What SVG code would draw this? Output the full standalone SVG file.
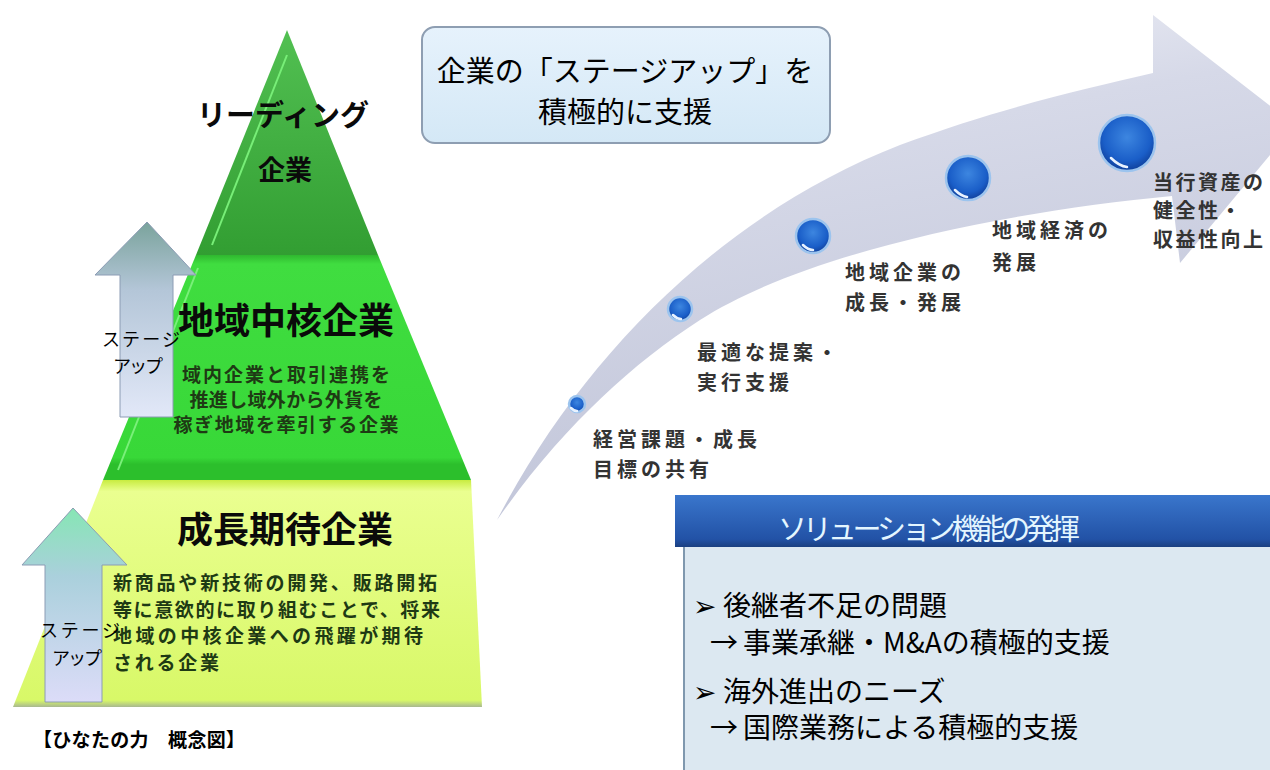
<svg xmlns="http://www.w3.org/2000/svg" width="1270" height="770" viewBox="0 0 1270 770">
<defs>
<linearGradient id="gTop" x1="0" y1="0" x2="0" y2="1"><stop offset="0" stop-color="#52c052"/><stop offset="1" stop-color="#329e32"/></linearGradient>
<linearGradient id="gMid" x1="0" y1="0" x2="0" y2="1"><stop offset="0" stop-color="#2fb82f"/><stop offset="0.04" stop-color="#40dd40"/><stop offset="0.9" stop-color="#38d838"/><stop offset="0.93" stop-color="#2cbf2c"/><stop offset="1" stop-color="#2cbf2c"/></linearGradient>
<linearGradient id="gBot" x1="0" y1="0" x2="0" y2="1"><stop offset="0" stop-color="#c8ec40"/><stop offset="0.05" stop-color="#eaff90"/><stop offset="0.97" stop-color="#d8f868"/><stop offset="1" stop-color="#a8b890"/></linearGradient>
<linearGradient id="gUp1" x1="0" y1="0" x2="0" y2="1"><stop offset="0" stop-color="#7aa39c"/><stop offset="0.35" stop-color="#b4c6d8"/><stop offset="1" stop-color="#e2e8f8"/></linearGradient>
<linearGradient id="gUp2" x1="0" y1="0" x2="0" y2="1"><stop offset="0" stop-color="#86e6b4"/><stop offset="0.35" stop-color="#aad0dc"/><stop offset="1" stop-color="#dcdcf8"/></linearGradient>
<linearGradient id="gArrow" x1="0" y1="0" x2="0.3" y2="1"><stop offset="0" stop-color="#f4f5fa"/><stop offset="0.35" stop-color="#d6d9e8"/><stop offset="1" stop-color="#c0c4d8"/></linearGradient>
<radialGradient id="gBall" cx="0.5" cy="0.4" r="0.6"><stop offset="0" stop-color="#3d86e0"/><stop offset="0.7" stop-color="#1a5ec8"/><stop offset="1" stop-color="#0f3f9a"/></radialGradient>
<linearGradient id="gHead" x1="0" y1="0" x2="0" y2="1"><stop offset="0" stop-color="#3a76cc"/><stop offset="0.85" stop-color="#2252a6"/><stop offset="1" stop-color="#1a3f80"/></linearGradient>
<linearGradient id="gBox" x1="0" y1="0" x2="0" y2="1"><stop offset="0" stop-color="#e6f2fc"/><stop offset="1" stop-color="#d4e8f6"/></linearGradient>
</defs>
<style>
.jp{font-family:"Noto Sans CJK JP","Noto Sans CJK SC",sans-serif}
.pt{font-family:"Noto Sans CJK JP",sans-serif;font-weight:700;fill:#0a0a0a;text-anchor:middle}
.ps{font-family:"Noto Sans CJK JP",sans-serif;font-weight:700;fill:#1e3a14;font-size:19px}
.st{font-family:"Noto Sans CJK JP",sans-serif;font-size:18px;fill:#000}
.lb{font-family:"Noto Sans CJK JP",sans-serif;font-weight:700;fill:#333;font-size:20px;letter-spacing:4px}
.it{font-family:"Noto Sans CJK JP",sans-serif;font-size:28px;fill:#000}
.ball{fill:url(#gBall);stroke:#9cc4ee;stroke-width:2.5}
</style>

<g id="curved-arrow">
<path d="M497,520 C580,360 720,215 900,145 C1000,108 1080,90 1153,73 L1153,15 L1295,125 L1180,263 L1172,196 C1000,212 800,255 700,320 C630,365 560,430 497,520 Z" fill="url(#gArrow)"/>
</g>

<g id="spheres">
<circle class="ball" cx="577" cy="404" r="8"/>
<circle class="ball" cx="680" cy="309" r="12"/>
<circle class="ball" cx="813" cy="236" r="17"/>
<circle class="ball" cx="968" cy="178" r="22"/>
<circle class="ball" cx="1127" cy="143" r="28"/>
<path d="M571,408 q3,3 6,3 M673,315 q4,4 8,4 M803,245 q5,5 10,5 M955,190 q6,6 12,7 M1111,158 q8,8 16,9" stroke="#e8f2ff" stroke-width="2.5" fill="none" stroke-linecap="round"/>
</g>

<g id="pyramid">
<g id="tier-top">
<polygon points="287,30 378,255 196,255" fill="url(#gTop)"/>
<line x1="287" y1="55" x2="212" y2="245" stroke="#78ee78" stroke-width="2"/>
<text class="pt" x="283" y="126" font-size="29">リーディング</text>
<text class="pt" x="285" y="180" font-size="27">企業</text>
</g>
<g id="tier-mid">
<polygon points="196,255 378,255 471,480 103,480" fill="url(#gMid)"/>
<line x1="198" y1="268" x2="118" y2="470" stroke="#7af07a" stroke-width="2"/>
<text class="pt" x="286" y="334" font-size="36">地域中核企業</text>
<text class="ps" x="286" y="382" text-anchor="middle" textLength="208">域内企業と取引連携を</text>
<text class="ps" x="286" y="407" text-anchor="middle" textLength="193">推進し域外から外貨を</text>
<text class="ps" x="286" y="432" text-anchor="middle" textLength="225">稼ぎ地域を牽引する企業</text>
</g>
<g id="tier-bot">
<polygon points="103,480 471,480 482,707 13,707" fill="url(#gBot)"/>
<text class="pt" x="285" y="543" font-size="36">成長期待企業</text>
<text class="ps" x="113" y="590" font-size="20" textLength="324">新商品や新技術の開発、販路開拓</text>
<text class="ps" x="113" y="617" font-size="20" textLength="327">等に意欲的に取り組むことで、将来</text>
<text class="ps" x="113" y="643" font-size="20" textLength="310">地域の中核企業への飛躍が期待</text>
<text class="ps" x="113" y="670" font-size="20" textLength="106">される企業</text>
</g>
</g>

<g id="stageup-upper">
<polygon points="147,222 196,275 173,275 173,417 120,417 120,275 95,275" fill="url(#gUp1)" stroke="#8c9cb4" stroke-width="1"/>
<text class="st" x="102" y="346" textLength="78">ステージ</text>
<text class="st" x="113" y="373" textLength="50">アップ</text>
</g>

<g id="stageup-lower">
<polygon points="73,508 127,565 102,565 102,702 45,702 45,565 22,565" fill="url(#gUp2)" stroke="#8c9cb4" stroke-width="1"/>
<text class="st" x="40" y="637" textLength="80">ステージ</text>
<text class="st" x="52" y="665" textLength="50">アップ</text>
</g>

<g id="caption">
<text class="jp" x="33" y="747" font-size="19" font-weight="700" fill="#000" textLength="212">【ひなたの力　概念図】</text>
</g>

<g id="top-box">
<rect x="422" y="27" width="408" height="116" rx="13" fill="url(#gBox)" stroke="#8e9eb2" stroke-width="2"/>
<text class="jp" font-size="29" text-anchor="middle" fill="#000"><tspan x="625" y="82">企業の「ステージアップ」を</tspan><tspan x="625" y="123">積極的に支援</tspan></text>
</g>

<g id="arrow-labels">
<text class="lb" x="593" y="447">経営課題・成長</text>
<text class="lb" x="593" y="477">目標の共有</text>
<text class="lb" x="697" y="360">最適な提案・</text>
<text class="lb" x="697" y="390">実行支援</text>
<text class="lb" x="845" y="280">地域企業の</text>
<text class="lb" x="845" y="310">成長・発展</text>
<text class="lb" x="992" y="238">地域経済の</text>
<text class="lb" x="992" y="270">発展</text>
<text class="lb" x="1153" y="190" style="letter-spacing:2.5px">当行資産の</text>
<text class="lb" x="1153" y="218" style="letter-spacing:2.5px">健全性・</text>
<text class="lb" x="1153" y="247" style="letter-spacing:2.5px">収益性向上</text>
</g>

<g id="solution-box">
<rect x="683" y="547" width="600" height="230" fill="#dce8f1"/>
<line x1="684" y1="547" x2="684" y2="770" stroke="#7f98ae" stroke-width="2"/>
<rect x="675" y="495" width="600" height="52" fill="url(#gHead)"/>
<text class="jp" x="929" y="540" font-size="29" text-anchor="middle" fill="#e4f6ff" textLength="302">ソリューション機能の発揮</text>
<text class="it"><tspan x="693" y="616">➢</tspan><tspan x="723" y="616">後継者不足の問題</tspan><tspan x="710" y="653">→</tspan><tspan x="743" y="653">事業承継・M&amp;Aの積極的支援</tspan></text>
<text class="it"><tspan x="693" y="702">➢</tspan><tspan x="723" y="702">海外進出のニーズ</tspan><tspan x="710" y="738">→</tspan><tspan x="743" y="738">国際業務による積極的支援</tspan></text>
</g>
</svg>
